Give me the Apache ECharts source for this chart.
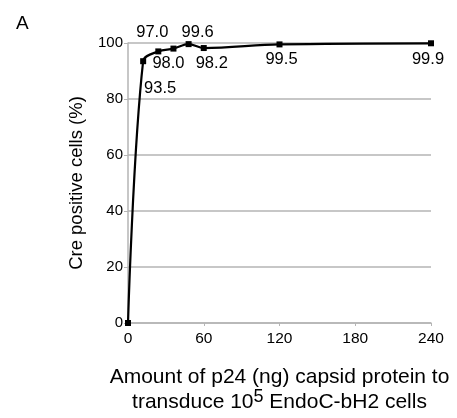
<!DOCTYPE html>
<html>
<head>
<meta charset="utf-8">
<script src="https://cdn.jsdelivr.net/npm/echarts@6/dist/echarts.min.js"></script>
<style>html,body{margin:0;padding:0;background:#fff;}#c{width:457px;height:418px;}</style>
</head>
<body>
<div id="c"></div>
<script>
var doses = [0, 12, 24, 36, 48, 60, 120, 240];
var crePositive = [0, 93.5, 97.0, 98.0, 99.6, 98.2, 99.5, 99.9];
var pointLabels = ['', '93.5', '97.0', '98.0', '99.6', '98.2', '99.5', '99.9'];
var xTicks = [0, 60, 120, 180, 240];
var yTicks = [0, 20, 40, 60, 80, 100];

// label offsets from each point's centre (style, not data)
var labelOffset = [null, [17, 27], [-6, -19], [-5, 15], [9, -12], [8, 15], [2, 15], [-3, 16]];

var font = 'Liberation Sans, Arial, sans-serif';
var data = doses.map(function (d, i) {
  var item = {value: [d, crePositive[i]]};
  if (labelOffset[i]) {
    item.label = {show: true, formatter: pointLabels[i], position: 'inside',
      offset: labelOffset[i], color: '#000', fontSize: 16.5, fontFamily: font};
  } else {
    item.label = {show: false};
  }
  return item;
});

var chart = echarts.init(document.getElementById('c'), null, {renderer: 'canvas'});
chart.setOption({
  animation: false,
  backgroundColor: '#fff',
  title: {text: 'A', left: 11, top: 9, textStyle: {fontSize: 19, fontWeight: 'normal', color: '#000', fontFamily: font}},
  grid: {left: 128, right: 26, top: 43, bottom: 95, containLabel: false, outerBoundsMode: 'none'},
  xAxis: {
    type: 'value', min: xTicks[0], max: xTicks[xTicks.length - 1], interval: 60,
    axisLine: {lineStyle: {color: '#b5b5b5', width: 1.5}},
    axisTick: {show: true, length: 3, lineStyle: {color: '#b5b5b5'}},
    splitLine: {show: false},
    axisLabel: {color: '#000', fontSize: 15.5, fontFamily: font, margin: 8},
    name: '{a|Amount of p24 (ng) capsid protein to}\n{a|transduce 10}{s|5}{a| EndoC-bH2 cells}',
    nameLocation: 'middle', nameGap: 40,
    nameTextStyle: {
      color: '#000', fontFamily: font, lineHeight: 25,
      rich: {
        a: {fontSize: 21, fontFamily: font, color: '#000', lineHeight: 25, verticalAlign: 'bottom'},
        s: {fontSize: 18, fontFamily: font, color: '#000', lineHeight: 25, verticalAlign: 'top', padding: [0, 0, 12, 0]}
      }
    }
  },
  yAxis: {
    type: 'value', min: yTicks[0], max: yTicks[yTicks.length - 1], interval: 20,
    axisLine: {show: true, lineStyle: {color: '#b5b5b5', width: 1.5}},
    axisTick: {show: true, length: 4, lineStyle: {color: '#b5b5b5'}},
    splitLine: {show: true, lineStyle: {color: '#b5b5b5', width: 1.5}},
    axisLabel: {color: '#000', fontSize: 15, fontFamily: font, margin: 5},
    name: 'Cre positive cells (%)', nameLocation: 'middle', nameGap: 42,
    nameTextStyle: {color: '#000', fontSize: 18.5, fontFamily: font}
  },
  series: [{
    type: 'line', data: data, smooth: 0.35,
    symbol: 'rect', symbolSize: 6,
    lineStyle: {color: '#000', width: 2.2},
    itemStyle: {color: '#000'}
  }]
});
</script>
</body>
</html>
